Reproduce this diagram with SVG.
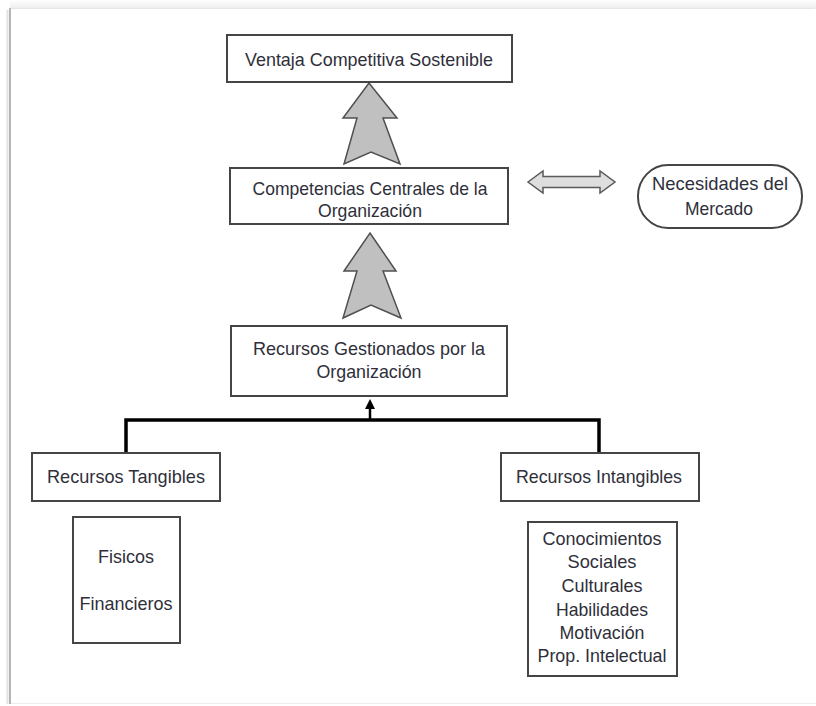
<svg xmlns="http://www.w3.org/2000/svg" width="816" height="706" viewBox="0 0 816 706">
  <defs>
    <linearGradient id="topShade" x1="0" y1="0" x2="0" y2="1">
      <stop offset="0" stop-color="#ffffff"/>
      <stop offset="1" stop-color="#ececec"/>
    </linearGradient>
    <marker id="tip" viewBox="0 0 10 10" refX="5" refY="5" markerWidth="4" markerHeight="4" orient="auto">
      <path d="M0,0 L10,5 L0,10 z" fill="#000"/>
    </marker>
  </defs>
  <style>
    .box { fill: #ffffff; stroke: #454545; stroke-width: 2; }
    .lbl { font-family: "Liberation Sans", Arial, sans-serif; font-size: 19px; fill: #2f2f3a; text-anchor: middle; }
    .big { fill: #c0c0c0; stroke: #505050; stroke-width: 1.5; stroke-linejoin: miter; }
    .dbl { fill: #dedede; stroke: #5a5a5a; stroke-width: 1.5; }
    .link { fill: none; stroke: #000; stroke-width: 3.5; }
  </style>

  <!-- page frame -->
  <rect x="0" y="0" width="816" height="706" fill="#ffffff"/>
  <rect x="10" y="0" width="806" height="9" fill="url(#topShade)"/>
  <line x1="10" y1="8.5" x2="812" y2="8.5" stroke="#e6e6e6" stroke-width="1"/>
  <line x1="7.5" y1="10" x2="7.5" y2="704" stroke="#e2e2e2" stroke-width="2"/>
  <line x1="10" y1="8" x2="10" y2="704" stroke="#b5b5b5" stroke-width="2"/>
  <line x1="11" y1="703.5" x2="816" y2="703.5" stroke="#ececec" stroke-width="1"/>

  <!-- connectors -->
  <g id="connectors">
    <polygon class="big" points="369,83 397,118 383,118 400,164 371,152 344,164 357,118 343,118"/>
    <polygon class="big" points="370,233 396,271 383,271 401,318 371,305 343,318 357,271 344,271"/>
    <polygon class="dbl" points="528,182 543,171 543,176.5 600,176.5 600,171 615,182 600,193 600,187.5 543,187.5 543,193"/>
    <polyline class="link" points="126,453 126,420 599,420 599,453"/>
    <line x1="370" y1="420" x2="370" y2="404" stroke="#000" stroke-width="2.5" marker-end="url(#tip)"/>
  </g>

  <g id="ventaja">
    <rect class="box" x="227" y="35" width="285" height="47"/>
    <text class="lbl" x="369" y="66" textLength="248" lengthAdjust="spacingAndGlyphs">Ventaja Competitiva Sostenible</text>
  </g>

  <g id="competencias">
    <rect class="box" x="230" y="168" width="278" height="56"/>
    <text class="lbl" x="370" y="195" textLength="235" lengthAdjust="spacingAndGlyphs">Competencias Centrales de la</text>
    <text class="lbl" x="370" y="217" textLength="104" lengthAdjust="spacingAndGlyphs">Organización</text>
  </g>

  <g id="mercado">
    <rect class="box" x="638" y="165" width="164" height="63" rx="30" ry="31"/>
    <text class="lbl" x="720" y="190" textLength="136" lengthAdjust="spacingAndGlyphs">Necesidades del</text>
    <text class="lbl" x="719" y="215" textLength="68" lengthAdjust="spacingAndGlyphs">Mercado</text>
  </g>

  <g id="gestionados">
    <rect class="box" x="231" y="326" width="276" height="70"/>
    <text class="lbl" x="369" y="355" textLength="232" lengthAdjust="spacingAndGlyphs">Recursos Gestionados por la</text>
    <text class="lbl" x="369" y="378" textLength="105" lengthAdjust="spacingAndGlyphs">Organización</text>
  </g>

  <g id="tangibles">
    <rect class="box" x="32" y="453" width="188" height="48"/>
    <text class="lbl" x="126" y="483" textLength="158" lengthAdjust="spacingAndGlyphs">Recursos Tangibles</text>
  </g>

  <g id="tangibles-lista">
    <rect class="box" x="73" y="517" width="107" height="126"/>
    <text class="lbl" x="126" y="563" textLength="56" lengthAdjust="spacingAndGlyphs">Fisicos</text>
    <text class="lbl" x="126" y="610" textLength="93" lengthAdjust="spacingAndGlyphs">Financieros</text>
  </g>

  <g id="intangibles">
    <rect class="box" x="501" y="453" width="198" height="48"/>
    <text class="lbl" x="599" y="483" textLength="166" lengthAdjust="spacingAndGlyphs">Recursos Intangibles</text>
  </g>

  <g id="intangibles-lista">
    <rect class="box" x="528" y="522" width="149" height="154"/>
    <text class="lbl" x="602" y="545" textLength="119" lengthAdjust="spacingAndGlyphs">Conocimientos</text>
    <text class="lbl" x="602" y="568" textLength="69" lengthAdjust="spacingAndGlyphs">Sociales</text>
    <text class="lbl" x="602" y="592" textLength="81" lengthAdjust="spacingAndGlyphs">Culturales</text>
    <text class="lbl" x="602" y="616" textLength="92" lengthAdjust="spacingAndGlyphs">Habilidades</text>
    <text class="lbl" x="602" y="639" textLength="85" lengthAdjust="spacingAndGlyphs">Motivación</text>
    <text class="lbl" x="602" y="662" textLength="129" lengthAdjust="spacingAndGlyphs">Prop. Intelectual</text>
  </g>
</svg>
